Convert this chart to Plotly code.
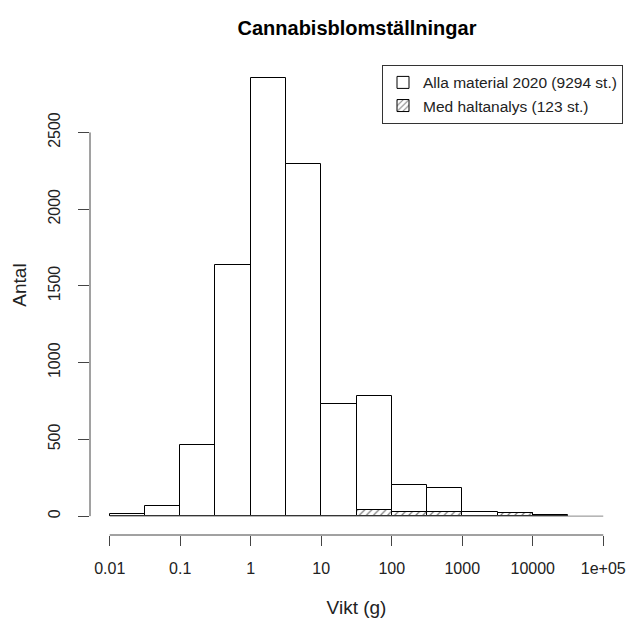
import numpy as np
import plotly.graph_objects as go

# half-decade bin edges (log10 of grams)
log_edges = [-2.0, -1.5, -1.0, -0.5, 0.0, 0.5, 1.0, 1.5, 2.0, 2.5, 3.0, 3.5, 4.0, 4.5]
all_counts = [12, 65, 466, 1639, 2856, 2293, 732, 786, 205, 181, 25, 22, 8]
analysed_counts = [0, 0, 0, 0, 0, 0, 0, 40, 30, 30, 0, 23, 0]

x_tickvals = [-2, -1, 0, 1, 2, 3, 4, 5]
x_ticktext = ["0.01", "0.1", "1", "10", "100", "1000", "10000", "1e+05"]
y_tickvals = [0, 500, 1000, 1500, 2000, 2500]

edges = np.array(log_edges)
centers = (edges[:-1] + edges[1:]) / 2
widths = edges[1:] - edges[:-1]

fig = go.Figure()
fig.add_trace(go.Bar(
    x=centers, y=all_counts, width=widths,
    name="Alla material 2020 (9294 st.)",
    marker=dict(color="white", line=dict(color="black", width=1)),
))
fig.add_trace(go.Bar(
    x=centers, y=analysed_counts, width=widths,
    name="Med haltanalys (123 st.)",
    marker=dict(color="white", line=dict(color="black", width=1),
                pattern=dict(shape="/", fgcolor="black", bgcolor="white", size=5, solidity=0.25)),
))

font = "Liberation Sans, Arial, sans-serif"
L, R, T, B = 90, 4, 35, 81
fig.update_layout(
    width=630, height=619,
    barmode="overlay",
    plot_bgcolor="white", paper_bgcolor="white",
    margin=dict(l=L, r=R, t=T, b=B, pad=0),
    font=dict(family=font, size=16, color="#222"),
    title=dict(text="<b>Cannabisblomställningar</b>", x=357 / 630, xanchor="center",
               y=1 - 28 / 619, yanchor="middle", font=dict(size=20, color="black")),
    showlegend=True,
    legend=dict(x=1.0, xanchor="right", y=(538 - 65) / 503, yanchor="top",
                bordercolor="#333", borderwidth=1, bgcolor="white",
                font=dict(size=15.5), tracegroupgap=0, itemwidth=30),
    bargap=0,
)
fig.update_xaxes(range=[-2.28, 5.28], tickvals=x_tickvals, ticktext=x_ticktext,
                 showgrid=False, zeroline=False, showline=False,
                 ticks="outside", ticklen=10, tickcolor="#444", ticklabelstandoff=9,
                 title=dict(text="Vikt (g)", standoff=24, font=dict(size=19)))
fig.update_yaxes(range=[-123, 3135], tickvals=y_tickvals, tickangle=-90,
                 showgrid=False, zeroline=False, showline=False,
                 ticks="outside", ticklen=11, tickcolor="#444", ticklabelstandoff=12,
                 title=dict(text="Antal", standoff=13, font=dict(size=19)))
# R-style detached axis lines spanning first to last tick
fig.add_shape(type="line", xref="x", yref="paper", x0=-2, x1=5, y0=0, y1=0,
              line=dict(color="#444", width=1))
fig.add_shape(type="line", xref="paper", yref="y", x0=0, x1=0, y0=0, y1=2500,
              line=dict(color="#444", width=1))
fig.add_shape(type="line", xref="x", yref="y", x0=-2, x1=5, y0=0, y1=0,
              line=dict(color="#888", width=1))
fig.write_html("out.html")
